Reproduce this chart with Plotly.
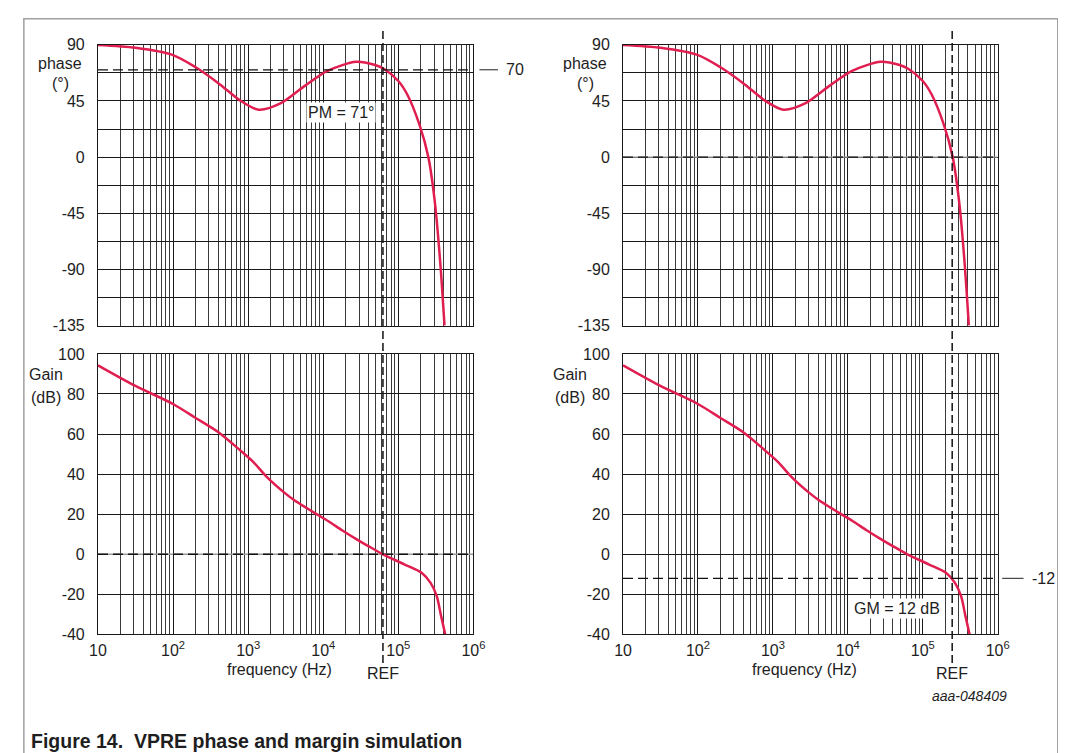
import math
import plotly.graph_objects as go

# ---------------- data ----------------
phase_freq = [10, 31.6, 100, 200, 417, 776, 1380, 2690, 5500, 11200, 27500,
              47900, 63100, 100000, 132000, 191000, 251000, 309000, 363000, 412000]
phase_deg = [89.8, 87.6, 81.8, 72.0, 58.5, 45.5, 38.0, 43.0, 56.5, 69.0, 76.4,
             74.0, 71.0, 61.0, 50.0, 26.0, 0.0, -38.0, -86.0, -135.0]

gain_freq = [10, 31.6, 100, 200, 398, 776, 1175, 1780, 3090, 4170, 5750, 7940,
             11700, 17800, 26900, 39800, 62400, 120000, 204000, 269000,
             324000, 372000, 422000]
gain_db = [94.3, 84.0, 75.0, 68.0, 61.0, 52.0, 46.0, 38.5, 30.5, 26.8, 23.5, 20.3,
           16.5, 12.0, 7.8, 4.1, 0.0, -5.0, -9.2, -14.3,
           -20.8, -31.0, -40.0]

REF_LEFT = 62400      # gain crossover frequency (Hz)
REF_RIGHT = 247000    # phase crossover frequency (Hz)
PM_LEVEL = 70         # deg
GM_LEVEL = -12        # dB
ZERO_LEVEL = 0

decade_vals = [10, 100, 1000, 10000, 100000, 1000000]
decade_labels = ["10", "10<sup>2</sup>", "10<sup>3</sup>", "10<sup>4</sup>",
                 "10<sup>5</sup>", "10<sup>6</sup>"]
phase_ticks = [-135, -90, -45, 0, 45, 90]
phase_labels = ["-135", "-90", "-45", "0", "45", "90"]
phase_minor = [-112.5, -67.5, -22.5, 22.5, 67.5]
gain_ticks = [-40, -20, 0, 20, 40, 60, 80, 100]
gain_labels = ["-40", "-20", "0", "20", "40", "60", "80", "100"]

# ---------------- layout helpers ----------------
W, H = 1066, 753
FONT = "Liberation Sans, Arial, sans-serif"
TXT = "#1e1e1e"
CURVE = "#e01e50"
GRID = "#1a1a1a"


def px(x):
    return x / W


def py(y):
    return 1 - y / H


minor_x = [m * d for d in decade_vals[:-1] for m in range(2, 10)]

left_dom = [px(82.6), px(465.6)]
right_dom = [px(618.2), px(1000.4)]
phase_dom = [py(316.7), py(29.5)]
gain_dom = [py(632.7), py(345.7)]


def xaxis(domain, anchor, labels):
    return dict(type="log", range=[1, 6], domain=domain, anchor=anchor,
                tickmode="array", tickvals=decade_vals, ticktext=decade_labels,
                showticklabels=labels, ticks="", ticklabelstandoff=1,
                showgrid=True, gridcolor=GRID, gridwidth=1,
                minor=dict(tickmode="array", tickvals=minor_x, showgrid=True,
                           gridcolor="#3a3a3a", gridwidth=1, ticks=""),
                showline=True, linecolor=GRID, linewidth=1, mirror=True,
                zeroline=False, fixedrange=True,
                tickfont=dict(family=FONT, size=16, color=TXT))


def yaxis(domain, anchor, rng, ticks, labels, minor=None):
    d = dict(range=rng, domain=domain, anchor=anchor, tickmode="array",
             tickvals=ticks, ticktext=labels, ticks="", ticklabelstandoff=9,
             showgrid=True, gridcolor=GRID, gridwidth=1,
             showline=True, linecolor=GRID, linewidth=1, mirror=True,
             zeroline=False, fixedrange=True,
             tickfont=dict(family=FONT, size=16, color=TXT))
    if minor:
        d["minor"] = dict(tickmode="array", tickvals=minor, showgrid=True,
                          gridcolor=GRID, gridwidth=1, ticks="")
    return d


fig = go.Figure()

# dashed reference zero lines (left gain 0 dB, right phase 0 deg), under the curves
span = [decade_vals[0], decade_vals[-1]]
for xa, ya in (("x2", "y2"), ("x3", "y3")):
    fig.add_trace(go.Scatter(x=span, y=[ZERO_LEVEL, ZERO_LEVEL], mode="lines",
                             line=dict(color="#9a9a9a", width=1.4),
                             xaxis=xa, yaxis=ya, showlegend=False, hoverinfo="skip"))
    fig.add_trace(go.Scatter(x=span, y=[ZERO_LEVEL, ZERO_LEVEL], mode="lines",
                             line=dict(color="#111", width=1.3, dash="10px,5px"),
                             xaxis=xa, yaxis=ya, showlegend=False, hoverinfo="skip"))

line = dict(color=CURVE, width=2.5, shape="spline", smoothing=0.8)
for xa, ya, xs, ys in (("x", "y", phase_freq, phase_deg),
                       ("x2", "y2", gain_freq, gain_db),
                       ("x3", "y3", phase_freq, phase_deg),
                       ("x4", "y4", gain_freq, gain_db)):
    fig.add_trace(go.Scatter(x=xs, y=ys, mode="lines", line=line,
                             xaxis=xa, yaxis=ya, showlegend=False,
                             hoverinfo="skip"))

fig.update_layout(
    width=W, height=H, margin=dict(l=0, r=0, t=0, b=0),
    paper_bgcolor="white", plot_bgcolor="white",
    font=dict(family=FONT, size=16, color=TXT),
    xaxis=xaxis(left_dom, "y", False),
    yaxis=yaxis(phase_dom, "x", [-135, 90], phase_ticks, phase_labels, phase_minor),
    xaxis2=xaxis(left_dom, "y2", True),
    yaxis2=yaxis(gain_dom, "x2", [-40, 100], gain_ticks, gain_labels),
    xaxis3=xaxis(right_dom, "y3", False),
    yaxis3=yaxis(phase_dom, "x3", [-135, 90], phase_ticks, phase_labels, phase_minor),
    xaxis4=xaxis(right_dom, "y4", True),
    yaxis4=yaxis(gain_dom, "x4", [-40, 100], gain_ticks, gain_labels),
)

shapes = []
# outer frame
shapes.append(dict(type="rect", xref="paper", yref="paper", x0=px(7), x1=px(1061.7),
                   y0=-0.05, y1=py(2.7), line=dict(color="#a0a0a0", width=1.5),
                   layer="below"))
# REF vertical dashed lines
for xr, f in (("x2", REF_LEFT), ("x4", REF_RIGHT)):
    shapes.append(dict(type="line", xref=xr, yref="paper", x0=f, x1=f,
                       y0=py(662), y1=py(13),
                       line=dict(color="#111", width=1.5, dash="8px,4px")))
# PM level line
shapes.append(dict(type="line", xref="x domain", yref="y", x0=0, x1=1,
                   y0=PM_LEVEL, y1=PM_LEVEL,
                   line=dict(color="#111", width=1.3, dash="10px,5px")))
shapes.append(dict(type="line", xref="x domain", yref="y", x0=1.016, x1=1.0655,
                   y0=PM_LEVEL, y1=PM_LEVEL, line=dict(color="#222", width=1)))
# GM level line
shapes.append(dict(type="line", xref="x4 domain", yref="y4", x0=0, x1=1,
                   y0=GM_LEVEL, y1=GM_LEVEL,
                   line=dict(color="#111", width=1.3, dash="10px,5px")))
shapes.append(dict(type="line", xref="x4 domain", yref="y4", x0=1.012, x1=1.069,
                   y0=GM_LEVEL, y1=GM_LEVEL, line=dict(color="#222", width=1)))
fig.update_layout(shapes=shapes)

ann = []


def text(x, y, s, size=16, xref="paper", yref="paper", **kw):
    d = dict(xref=xref, yref=yref, x=x, y=y, text=s, showarrow=False,
             font=dict(family=FONT, size=size, color=TXT),
             xanchor="center", yanchor="middle")
    d.update(kw)
    ann.append(d)


text(px(44), py(48.3), "phase")
text(px(44), py(69), "(°)")
text(px(579.6), py(48.3), "phase")
text(px(579.6), py(69), "(°)")
text(px(29.3), py(367), "Gain")
text(px(29.3), py(390), "(dB)")
text(px(564.2), py(367), "Gain")
text(px(564.2), py(390), "(dB)")
text(px(331), py(99), "PM = 71°", bgcolor="white", borderpad=1)
text(px(897.6), py(606), "GM = 12 dB", bgcolor="white", borderpad=1)
text(px(267.7), py(668.5), "frequency (Hz)")
text(px(803), py(668.5), "frequency (Hz)")
text(px(971.7), py(696), "<i>aaa-048409</i>", size=14)
text(px(12.7), py(741.5), "<b>Figure 14.&nbsp; VPRE phase and margin simulation</b>",
     size=19.5, xanchor="left")
text(1.112, PM_LEVEL, "70", xref="x domain", yref="y")
text(1.122, GM_LEVEL, "-12", xref="x4 domain", yref="y4")
text(math.log10(REF_LEFT), py(673), "REF", xref="x2")
text(math.log10(REF_RIGHT), py(673), "REF", xref="x4")
fig.update_layout(annotations=ann)

fig.write_html("out.html")
